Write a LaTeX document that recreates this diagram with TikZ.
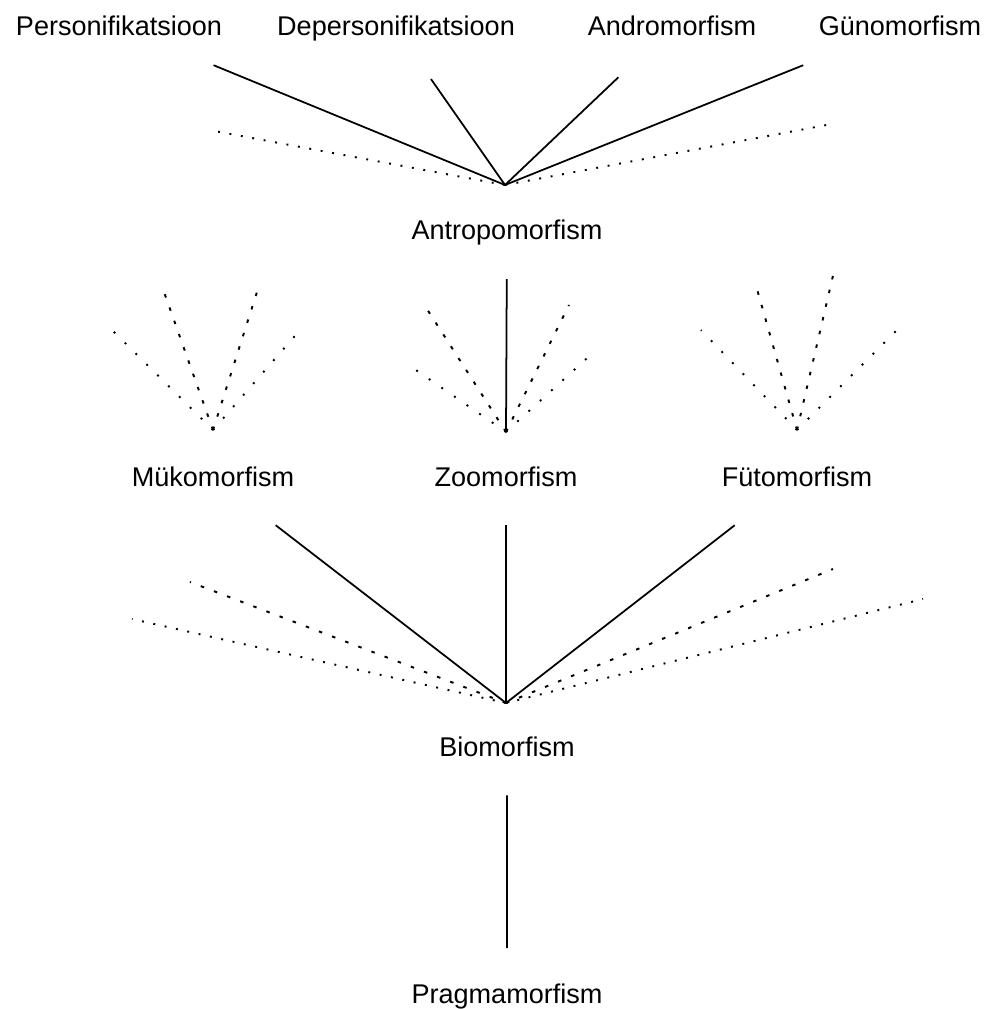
\documentclass[tikz,border=0pt]{standalone}
\usepackage{fontspec}
\setmainfont{Liberation Sans}
\usetikzlibrary{calc}

\begin{document}
\begin{tikzpicture}[
  lbl/.style={anchor=base, inner sep=0pt, font=\fontsize{15.4}{18}\selectfont},
  solidl/.style={draw=black, line width=1pt},
  dashl/.style={draw=black, line width=1.1pt, dash pattern=on 2pt off 6pt},
  dotl/.style={draw=black, line width=1.1pt, dash pattern=on 1.1pt off 5.5pt},
  dotwide/.style={dotl, dash pattern=on 1.1pt off 7.6pt},
]
\useasboundingbox (0,0) rectangle (19.86,-20.18);

% ===== labels =====
\node[lbl] (pers)   at (2.38,-0.72)  {Personifikatsioon};
\node[lbl] (depers) at (7.92,-0.72)  {Depersonifikatsioon};
\node[lbl] (andro)  at (13.44,-0.72) {Andromorfism};
\node[lbl] (guno)   at (18.00,-0.72) {Günomorfism};
\node[lbl] (antro)  at (10.14,-4.78) {Antropomorfism};
\node[lbl] (myko)   at (4.26,-9.73)  {Mükomorfism};
\node[lbl] (zoo)    at (10.12,-9.73) {Zoomorfism};
\node[lbl] (fyto)   at (15.94,-9.73) {Fütomorfism};
\node[lbl] (bio)    at (10.14,-15.12) {Biomorfism};
\node[lbl] (pragma) at (10.14,-20.06) {Pragmamorfism};

% ===== meeting points =====
\coordinate (antv)  at (10.10,-3.70);
\coordinate (mykv)  at (4.26,-8.60);
\coordinate (zoov)  at (10.12,-8.64);
\coordinate (fytv)  at (15.94,-8.60);
\coordinate (biov)  at (10.12,-14.06);
\coordinate (pragv) at (10.14,-18.96);

% ===== free ends of the unnamed branches =====
\coordinate (antdl) at (4.18,-2.60);
\coordinate (antdr) at (16.64,-2.48);
\coordinate (mykal) at (3.28,-5.84);
\coordinate (mykar) at (5.14,-5.84);
\coordinate (mykdl) at (2.24,-6.60);
\coordinate (mykdr) at (6.00,-6.60);
\coordinate (zooal) at (8.50,-6.12);
\coordinate (zooar) at (11.38,-6.10);
\coordinate (zoodl) at (8.26,-7.36);
\coordinate (zoodr) at (11.92,-7.00);
\coordinate (fytal) at (15.10,-5.64);
\coordinate (fytar) at (16.70,-5.34);
\coordinate (fytdl) at (14.02,-6.60);
\coordinate (fytdr) at (17.94,-6.60);
\coordinate (bioal) at (3.80,-11.64);
\coordinate (bioar) at (16.66,-11.38);
\coordinate (biodl) at (2.64,-12.38);
\coordinate (biodr) at (18.46,-11.98);

% ===== top fan =====
\draw[solidl] (antv) -- ($(antv)!0.755!(pers)$);
\draw[solidl] (antv) -- ($(antv)!0.679!(depers)$);
\draw[solidl] (antv) -- ($(antv)!0.679!(andro)$);
\draw[solidl] (antv) -- ($(antv)!0.755!(guno)$);
\draw[dotl] (antv) -- (antdl);
\draw[dotl] (antv) -- (antdr);

% ===== middle fans =====
\draw[solidl] (zoov) -- ($(zoov)!0.764!(antro)$);
\draw[dashl] (zoov) -- (zooal);
\draw[dashl] (zoov) -- (zooar);
\draw[dotwide] (zoov) -- (zoodl);
\draw[dotwide] (zoov) -- (zoodr);

\draw[dashl] (mykv) -- (mykal);
\draw[dashl] (mykv) -- (mykar);
\draw[dotwide] (mykv) -- (mykdl);
\draw[dotwide] (mykv) -- (mykdr);

\draw[dashl] (fytv) -- (fytal);
\draw[dashl] (fytv) -- (fytar);
\draw[dotwide] (fytv) -- (fytdl);
\draw[dotwide] (fytv) -- (fytdr);

% ===== lower fan =====
\draw[solidl] (biov) -- ($(biov)!0.786!(myko)$);
\draw[solidl] (biov) -- ($(biov)!0.786!(zoo)$);
\draw[solidl] (biov) -- ($(biov)!0.786!(fyto)$);
\draw[dashl] (biov) -- (bioal);
\draw[dashl] (biov) -- (bioar);
\draw[dotl] (biov) -- (biodl);
\draw[dotl] (biov) -- (biodr);

% ===== stem =====
\draw[solidl] (pragv) -- ($(pragv)!0.757!(bio)$);

\end{tikzpicture}
\end{document}
